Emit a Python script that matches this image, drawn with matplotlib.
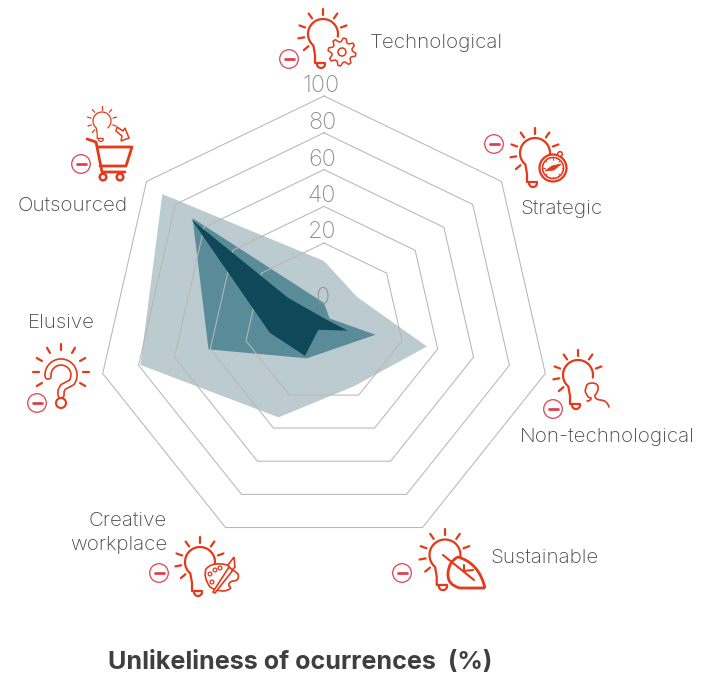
#!/usr/bin/env python3
"""Unlikeliness of occurrences radar, with hand-drawn icons around it."""
import numpy as np
import matplotlib
matplotlib.use("Agg")
import matplotlib.pyplot as plt
from matplotlib.patches import Circle, Polygon, PathPatch
from matplotlib.path import Path

# data (clockwise from the top)
CATEGORIES = ["Technological", "Strategic", "Non-technological", "Sustainable",
              "Creative workplace", "Elusive", "Outsourced"]
TICKS = [0, 20, 40, 60, 80, 100]
LIGHT = [15.5, 10.5, 34, 17.5, 33.5, 79, 89]
MEDIUM = [5, 1.8, 13.2, 7, 9.8, 41, 68]
# the darkest shape does not sit on the spokes, so it has its own angles
DARK = [68, 11, 1.2, 6.2, 2.2, 9.5, 13.8]
DARK_DEG = [308, 305, 0, 108, 220, 210, 260]

W, H = 707, 677
CX, CY, RMAX = 324, 323, 227
RING_R = [0, 80, 116.6, 153.4, 190.2, 227]   # the 0-20 band is squeezed in the source

RED = "#e5391b"
MINUS = "#e0404f"
GRID = "#b9b7b4"
TXT = "#484848"

plt.rcParams["font.family"] = ["Inter", "Roboto", "DejaVu Sans"]

fig = plt.figure(figsize=(W / 100, H / 100), dpi=100, facecolor="white")

# radar
ax = fig.add_axes([(CX - RMAX) / W, (H - CY - RMAX) / H, 2 * RMAX / W, 2 * RMAX / H], polar=True)
ax.set_theta_zero_location("N")
ax.set_theta_direction(-1)
ax.set_ylim(0, RMAX)
ax.axis("off")
ax.patch.set_alpha(0)

spokes = np.linspace(0, 2 * np.pi, len(CATEGORIES), endpoint=False)


def rad(vals):
    return np.interp(vals, TICKS, RING_R)


def closed(a):
    a = np.asarray(a, dtype=float)
    return np.append(a, a[0])


ax.fill(closed(spokes), closed(rad(LIGHT)), color="#bccbd0", lw=0, zorder=1)
ax.fill(closed(spokes), closed(rad(MEDIUM)), color="#5a8b99", lw=0, zorder=2)
for t in TICKS[1:]:
    ax.plot(closed(spokes), closed(rad([t] * len(spokes))), color=GRID, lw=0.75, zorder=3, clip_on=False)
ax.fill(np.deg2rad(closed(DARK_DEG)), closed(rad(DARK)), color="#0f4858", lw=0, zorder=4)

# overlay in pixel coordinates for text and icons
ov = fig.add_axes([0, 0, 1, 1])
ov.set_xlim(0, W)
ov.set_ylim(H, 0)
ov.axis("off")
ov.patch.set_alpha(0)

for t, y in zip(TICKS, [298, 232, 196, 160, 123, 86]):
    ov.text(322 if t != 100 else 321, y, str(t), color="#8f8f8f", fontsize=16.8, fontweight="light", ha="center", va="center")

LABELS = [("Technological", 370, 43.5, "left"), ("Strategic", 520, 208.5, "left"),
          ("Non-technological", 520, 437.5, "left"), ("Sustainable", 490, 557.5, "left"),
          ("Creative", 167, 520.5, "right"), ("workplace", 167, 544.5, "right"),
          ("Elusive", 28, 322.5, "left"), ("Outsourced", 18, 205.5, "left")]
for s, x, y, ha in LABELS:
    ov.text(x, y, s, color=TXT, fontsize=14.8, fontweight="light", ha=ha, va="center")
ov.text(300, 662, "Unlikeliness of ocurrences  (%)", color="#3f3f3f", fontsize=18.1,
        fontweight="bold", ha="center", va="center")


def line(xs, ys, lw=1.5, color=RED, z=5):
    ov.plot(xs, ys, color=color, lw=lw, solid_capstyle="round", solid_joinstyle="round", zorder=z)


def arc(cx, cy, r, a0, a1):
    # angles in degrees, clockwise from the top of the screen
    a = np.deg2rad(np.linspace(a0, a1, 40))
    return cx + r * np.sin(a), cy - r * np.cos(a)


def rays(cx, cy, r0, r1, angs, lw=1.6):
    for a in np.deg2rad(angs):
        line([cx + r0 * np.sin(a), cx + r1 * np.sin(a)], [cy - r0 * np.cos(a), cy - r1 * np.cos(a)], lw=lw)


def bulb(cx, cy, R=15, angs=(0, 35, 70, -35, -70, -100, -130), lw=1.6, start=100):
    k = R / 15
    x, y = arc(cx, cy, R, start, -140)
    x = np.r_[x, cx - 8 * k, cx - 8 * k, cx + 2 * k]
    y = np.r_[y, cy + 21 * k, cy + 29 * k, cy + 29 * k]
    line(x, y, lw=lw)
    x, y = arc(cx - 2 * k, cy + 30 * k, 4 * k, -90, -270)
    line(x, y, lw=lw)
    rays(cx, cy, R + 4 * k, R + 10 * k, angs, lw=lw)


def minus(cx, cy):
    ov.add_patch(Circle((cx, cy), 9.3, fc="white", ec=MINUS, lw=0.9, zorder=6))
    line([cx - 4.5, cx + 4.5], [cy, cy], lw=2.0, color=MINUS, z=7)


def gear(cx, cy, r=14, n=8):
    a = np.linspace(0, 2 * np.pi, n * 4, endpoint=False) + np.pi / n / 4
    rr = np.tile([r, r, r * 0.74, r * 0.74], n)
    ov.add_patch(Polygon(np.c_[cx + rr * np.cos(a), cy + rr * np.sin(a)], closed=True, fc="white", ec=RED, lw=1.1, joinstyle="round", zorder=6))
    ov.add_patch(Circle((cx, cy), 4, fc="white", ec=RED, lw=1.1, zorder=7))


def compass(cx, cy):
    ov.add_patch(Circle((cx, cy), 13.5, fc="white", ec=RED, lw=1.6, zorder=6))
    ov.add_patch(Circle((cx, cy), 10.5, fc="white", ec=RED, lw=1.2, zorder=6))
    ov.add_patch(Polygon([(cx - 8, cy + 3), (cx - 1, cy - 2), (cx + 8, cy - 4), (cx + 1, cy + 2)], fc=RED, ec=RED, lw=0.6, zorder=7))
    ov.add_patch(Circle((cx + 7, cy - 14), 2.3, fc="white", ec=RED, lw=1.1, zorder=7))
    for a in np.deg2rad(np.arange(0, 360, 45)):
        line([cx + 8.5 * np.cos(a), cx + 10 * np.cos(a)], [cy + 8.5 * np.sin(a), cy + 10 * np.sin(a)], lw=0.7, z=7)


def person(cx, cy):
    # head and shoulder line
    verts = [(cx - 5, cy + 9), (cx - 1, cy + 9), (cx - 1, cy + 6), (cx - 4, cy + 6), (cx - 5, cy + 3),
             (cx - 8, cy - 1), (cx - 6, cy - 4), (cx - 6, cy - 9), (cx, cy - 9),
             (cx + 7, cy - 9), (cx + 6, cy - 3), (cx + 6, cy), (cx + 3, cy + 3), (cx + 2, cy + 7),
             (cx + 8, cy + 8), (cx + 15, cy + 8), (cx + 17, cy + 15)]
    codes = [Path.MOVETO] + [Path.CURVE3, Path.CURVE3] * 8
    ov.add_patch(PathPatch(Path(verts, codes), fc="none", ec="white", lw=4.5, zorder=6))
    ov.add_patch(PathPatch(Path(verts, codes), fc="none", ec=RED, lw=1.2, capstyle="round", zorder=7))


def leaf(tipx, tipy):
    verts = [(tipx, tipy), (tipx - 14, tipy + 0), (tipx - 25, tipy), (tipx - 38, tipy - 3), (tipx - 37, tipy - 15),
             (tipx - 36, tipy - 27), (tipx - 27, tipy - 31), (tipx - 6, tipy - 25), (tipx, tipy)]
    codes = [Path.MOVETO] + [Path.CURVE3] * 8
    ov.add_patch(PathPatch(Path(verts, codes), fc="white", ec=RED, lw=2.0, joinstyle="round", zorder=6))
    line([tipx - 42, tipx - 11], [tipy - 33, tipy - 8], lw=1.5, z=7)
    line([tipx - 21, tipx - 21], [tipy - 23, tipy - 17], lw=1.5, z=7)
    line([tipx - 21, tipx - 12], [tipy - 17, tipy - 18], lw=1.5, z=7)


def palette(cx, cy):
    verts = [(cx - 11, cy + 10), (cx - 18, cy), (cx - 15, cy - 8), (cx - 10, cy - 14), (cx, cy - 13), (cx + 8, cy - 13),
             (cx + 10, cy - 8), (cx + 14, cy - 6), (cx + 17, cy - 3), (cx + 19, cy + 4), (cx + 12, cy + 4),
             (cx + 7, cy + 5), (cx + 8, cy + 9), (cx + 13, cy + 12), (cx + 3, cy + 14), (cx - 5, cy + 14), (cx - 11, cy + 10)]
    codes = [Path.MOVETO] + [Path.CURVE3, Path.CURVE3] * 8
    ov.add_patch(PathPatch(Path(verts, codes), fc="white", ec=RED, lw=1.2, zorder=6))
    for dx, dy in [(-11, -3), (-6, -7), (-1, -9), (-9, 5)]:
        ov.add_patch(Circle((cx + dx, cy + dy), 1.9, fc="white", ec=RED, lw=0.9, zorder=7))
    # brush
    ov.add_patch(Polygon([(cx - 8, cy + 15), (cx + 8, cy - 10), (cx + 12, cy - 7), (cx - 6, cy + 16)], fc="white", ec=RED, lw=1.2, zorder=8))
    ov.add_patch(Polygon([(cx + 7, cy - 12), (cx + 13, cy - 20), (cx + 14, cy - 10), (cx + 11, cy - 7)], fc="white", ec=RED, lw=1.2, zorder=8))


def question(cx, cy):
    x, y = arc(cx, cy + 3, 13, -95, 125)
    vx = np.r_[x, cx + 2, cx, cx]
    vy = np.r_[y, cy + 15, cy + 19, cy + 23]
    ov.plot(vx, vy, color=RED, lw=5.6, solid_capstyle="round", solid_joinstyle="round", zorder=5)
    ov.plot(vx, vy, color="white", lw=3.2, solid_capstyle="round", solid_joinstyle="round", zorder=6)
    ov.add_patch(Circle((cx, cy + 31), 5, fc="white", ec=RED, lw=1.5, zorder=6))


def cart(x0, y0):
    line([x0, x0 + 9, x0 + 15, x0 + 38], [y0, y0 + 3, y0 + 33, y0 + 33], lw=2.0)
    line([x0 + 11, x0 + 45, x0 + 39, x0 + 13], [y0 + 8, y0 + 8, y0 + 27, y0 + 27], lw=2.0)
    for dx in (16, 33):
        ov.add_patch(Circle((x0 + dx, y0 + 38), 3.3, fc="white", ec=RED, lw=1.8, zorder=6))


ALL_RAYS = (0, 30, 60, 90, 120, -30, -60, -90, -120)

bulb(323, 34)
gear(342, 52)
minus(289, 59)

bulb(535, 153)
compass(553, 168)
minus(494, 144)

bulb(578, 375)
person(592, 392)
minus(553, 409)

bulb(445, 555, R=15.5)
leaf(485, 588)
minus(402, 573)

bulb(200, 562)
palette(221, 577)
minus(159, 573)

rays(61, 372, 22, 28, ALL_RAYS)
question(61, 372)
minus(37, 403)

bulb(102, 121, R=9, angs=(0, 40, 75, -40, -75, -110, -140, 110), lw=0.9, start=140)
ov.add_patch(Polygon([(117, 127), (123, 131), (125, 128), (129, 138), (121, 141), (122, 136), (116, 131)], fc="white", ec=RED, lw=1.1, zorder=6))
cart(87, 139)
minus(81, 164)

fig.savefig("out.png", dpi=100, facecolor="white")
